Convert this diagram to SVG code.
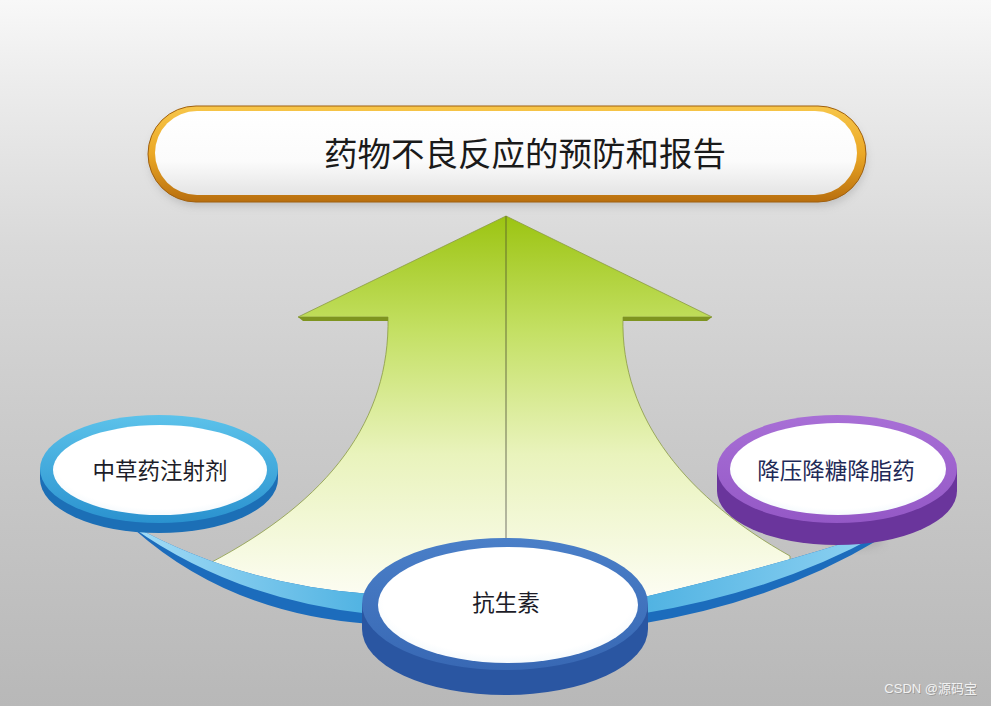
<svg xmlns="http://www.w3.org/2000/svg" width="991" height="706" viewBox="0 0 991 706">
<defs>
<linearGradient id="bg" x1="0" y1="0" x2="0" y2="1">
<stop offset="0" stop-color="#f8f8f8"/>
<stop offset="0.12" stop-color="#ececec"/>
<stop offset="0.35" stop-color="#d9d9d9"/>
<stop offset="0.6" stop-color="#cbcbcb"/>
<stop offset="1" stop-color="#b8b8b8"/>
</linearGradient>
<linearGradient id="gold" x1="0" y1="0" x2="0" y2="1">
<stop offset="0" stop-color="#f7c64a"/>
<stop offset="0.5" stop-color="#eba826"/>
<stop offset="1" stop-color="#b86e0e"/>
</linearGradient>
<linearGradient id="whiteBar" x1="0" y1="0" x2="0" y2="1">
<stop offset="0" stop-color="#ffffff"/>
<stop offset="0.6" stop-color="#fbfbfb"/>
<stop offset="1" stop-color="#e4e4e4"/>
</linearGradient>
<linearGradient id="arrowFill" gradientUnits="userSpaceOnUse" x1="0" y1="216" x2="0" y2="600">
<stop offset="0" stop-color="#9cc412"/>
<stop offset="0.3" stop-color="#c4e064"/>
<stop offset="0.62" stop-color="#e9f3bc"/>
<stop offset="1" stop-color="#fdfdf4"/>
</linearGradient>
<linearGradient id="midLine" gradientUnits="userSpaceOnUse" x1="0" y1="216" x2="0" y2="545">
<stop offset="0" stop-color="#6b7d22"/>
<stop offset="1" stop-color="#8a8a80"/>
</linearGradient>
<linearGradient id="bandLight" x1="0" y1="0" x2="1" y2="0">
<stop offset="0" stop-color="#a4dcf6"/>
<stop offset="1" stop-color="#4fb2e2"/>
</linearGradient>
<linearGradient id="bandLightR" x1="0" y1="0" x2="1" y2="0">
<stop offset="0" stop-color="#4fb2e2"/>
<stop offset="1" stop-color="#8fd2f2"/>
</linearGradient>
<linearGradient id="rimBlue" x1="0" y1="0" x2="0" y2="1">
<stop offset="0" stop-color="#5cc2ea"/>
<stop offset="1" stop-color="#2a92cf"/>
</linearGradient>
<linearGradient id="rimPurple" x1="0" y1="0" x2="0" y2="1">
<stop offset="0" stop-color="#a86fd6"/>
<stop offset="1" stop-color="#9458c6"/>
</linearGradient>
<linearGradient id="rimNavy" x1="0" y1="0" x2="0" y2="1">
<stop offset="0" stop-color="#4a7fc8"/>
<stop offset="1" stop-color="#3868b4"/>
</linearGradient>
<radialGradient id="faceWhite" cx="0.5" cy="0.45" r="0.6">
<stop offset="0" stop-color="#ffffff"/>
<stop offset="0.8" stop-color="#ffffff"/>
<stop offset="1" stop-color="#eef6fb"/>
</radialGradient>
<filter id="soft" x="-10%" y="-30%" width="120%" height="160%">
<feGaussianBlur stdDeviation="4"/>
</filter>
<style>
.lbl{font-family:"Noto Sans CJK SC","Noto Sans CJK JP",sans-serif;font-size:22.5px;text-anchor:middle;fill:#1c1c28;}
.title{font-family:"Noto Sans CJK SC","Noto Sans CJK JP",sans-serif;font-size:33.5px;text-anchor:middle;fill:#1a1a1a;font-weight:400;}
.face{fill:url(#faceWhite);}
</style>
</defs>

<rect x="0" y="0" width="991" height="706" fill="url(#bg)"/>

<g id="title">
<rect x="150" y="112" width="716" height="94" rx="47" fill="#888" opacity="0.35" filter="url(#soft)"/>
<rect x="148" y="106" width="718" height="96" rx="48" fill="url(#gold)" stroke="#a0600e" stroke-width="1"/>
<rect x="155" y="111" width="702" height="84" rx="42" fill="url(#whiteBar)"/>
<text class="title" x="525" y="165.5">药物不良反应的预防和报告</text>
</g>

<g id="connectors">
<g id="arrow">
<path d="M 506 216 L 712 317 L 623 317 C 620 420 690 500 790 556 L 790 562 Q 720 590 640 602 L 370 602 Q 260 590 210 568 L 210 563 C 330 500 390 420 388 317 L 298 317 Z" fill="url(#arrowFill)" stroke="#8a9a44" stroke-width="0.8"/>
<path d="M 298 317 L 388 317 L 388 321 L 303 321 Z" fill="#7e9420"/>
<path d="M 623 317 L 712 317 L 707 321 L 623 321 Z" fill="#7e9420"/>
<line x1="506" y1="216" x2="506" y2="545" stroke="url(#midLine)" stroke-width="1.2"/>
</g>
<g id="band">
<path d="M 130 524 Q 240 585 370 594 L 370 624 Q 230 614 135 530 Z" fill="#1c6cbc"/>
<path d="M 130 524 Q 240 585 370 594 L 370 614 Q 235 600 132 527 Z" fill="url(#bandLight)"/>
<ellipse cx="855" cy="540" rx="28" ry="9" fill="#9a9a9a" opacity="0.5" filter="url(#soft)"/>
<path d="M 640 598 Q 780 565 878 532 L 878 540 Q 775 602 640 624 Z" fill="#1c6cbc"/>
<path d="M 640 598 Q 780 565 878 532 L 878 535 Q 775 592 640 614 Z" fill="url(#bandLightR)"/>
</g>
</g>

<g id="node-left">
<ellipse cx="159" cy="479" rx="119" ry="54" fill="#1c6fb6"/>
<rect x="40" y="469" width="238" height="10" fill="#1c6fb6"/>
<ellipse cx="159" cy="469" rx="119" ry="54" fill="url(#rimBlue)"/>
<ellipse cx="160" cy="470" rx="107" ry="45" class="face"/>
<text class="lbl" x="160" y="478.5">中草药注射剂</text>
</g>

<g id="node-right">
<ellipse cx="837" cy="491" rx="120" ry="54" fill="#6a359c"/>
<rect x="717" y="469" width="240" height="22" fill="#6a359c"/>
<ellipse cx="837" cy="469" rx="120" ry="54" fill="url(#rimPurple)"/>
<ellipse cx="838" cy="469" rx="108" ry="46" class="face"/>
<text class="lbl" x="836" y="479" style="fill:#1f2a58">降压降糖降脂药</text>
</g>

<g id="node-center">
<ellipse cx="505" cy="629" rx="143" ry="66" fill="#2a56a2"/>
<rect x="362" y="604" width="286" height="25" fill="#2a56a2"/>
<ellipse cx="505" cy="604" rx="143" ry="66" fill="url(#rimNavy)"/>
<ellipse cx="508" cy="605" rx="130" ry="58" class="face"/>
<text class="lbl" x="506" y="610.5">抗生素</text>
</g>

<text x="978" y="694" text-anchor="end" font-family="'Liberation Sans','Noto Sans CJK SC',sans-serif" font-size="13" fill="#8a8a8a" opacity="0.6">CSDN @源码宝</text>
<text x="977" y="693" text-anchor="end" font-family="'Liberation Sans','Noto Sans CJK SC',sans-serif" font-size="13" fill="#f2f2f2">CSDN @源码宝</text>
</svg>
